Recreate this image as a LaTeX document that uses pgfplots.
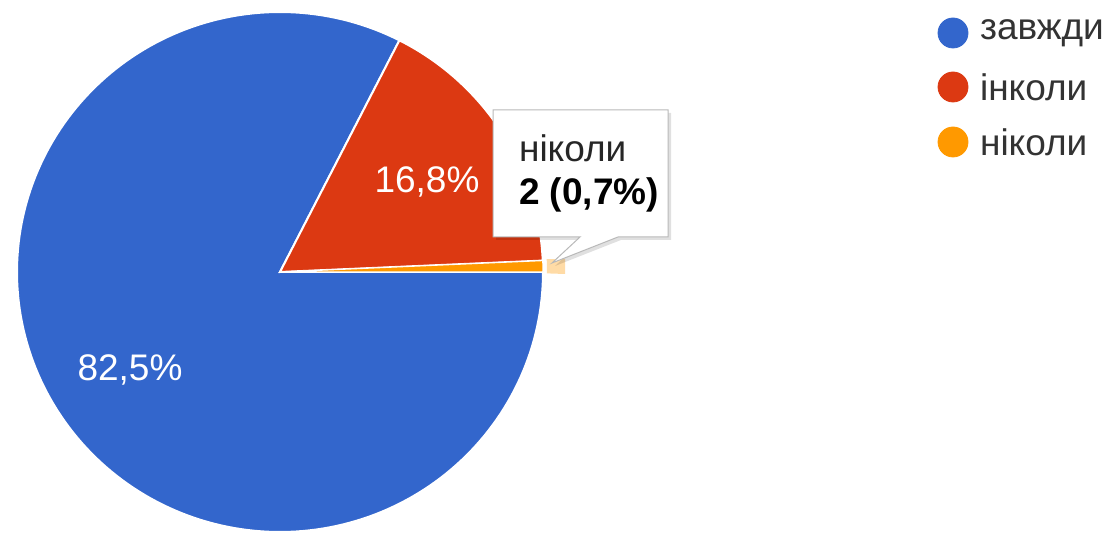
\documentclass[border=0pt]{standalone}
\usepackage{pgfplots}
\pgfplotsset{compat=1.18}
\usepackage{fontspec}
\setmainfont{Liberation Sans}
\definecolor{gblue}{HTML}{3366CC}
\definecolor{gred}{HTML}{DC3912}
\definecolor{gorange}{HTML}{FF9900}
\begin{document}
\begin{tikzpicture}[font=\fontsize{18.5}{22}\selectfont]
\def\cx{280}\def\cy{263}\def\Rx{263}\def\Ry{260}
% shares in percent
\def\pA{0.7}   % ніколи
\def\pB{16.8}  % інколи
\def\pC{82.5}  % завжди
\pgfmathsetmacro{\aA}{3.6*\pA}
\pgfmathsetmacro{\aB}{\aA+3.6*\pB}
\pgfmathsetmacro{\aC}{\aB+3.6*\pC}
\begin{axis}[x=0.5pt,y=0.5pt,xmin=0,xmax=1106,ymin=0,ymax=535,
  hide axis,clip=false,axis line style={draw=none}]
% blue wedge
\addplot[fill=gblue,draw=white,line width=1pt,domain=\aB:\aC,samples=200,variable=\t]
  ({\cx+\Rx*cos(\t)},{\cy+\Ry*sin(\t)}) -- (\cx,\cy) -- cycle;
% red wedge
\addplot[fill=gred,draw=white,line width=1pt,domain=\aA:\aB,samples=60,variable=\t]
  ({\cx+\Rx*cos(\t)},{\cy+\Ry*sin(\t)}) -- (\cx,\cy) -- cycle;
% orange wedge
\addplot[fill=gorange,draw=white,line width=0.6pt,domain=0:\aA,samples=5,variable=\t]
  ({\cx+\Rx*cos(\t)},{\cy+\Ry*sin(\t)}) -- (\cx,\cy) -- cycle;
% hover highlight of the orange wedge
\addplot[fill=gorange!35,draw=none,domain=-0.3:\aA+0.3,samples=5,variable=\t]
  ({\cx+(\Rx+4)*cos(\t)},{\cy+(\Ry+4)*sin(\t)}) -- ({\cx+\Rx+22},{\cy+(\Ry+4)*sin(\aA+0.3)}) -- ({\cx+\Rx+22},{\cy-2}) -- cycle;
% slice labels
\node[white] at (axis cs:427,353) {16,8\%};
\node[white] at (axis cs:130,165) {82,5\%};
% tooltip
\fill[black,opacity=0.12] (axis cs:496,295) -- (axis cs:583,295) -- (axis cs:555,269) -- (axis cs:621,295) -- (axis cs:671,295) -- (axis cs:671,422) -- (axis cs:496,422) -- cycle;
\draw[fill=white,draw=gray!55,line width=0.5pt] (axis cs:493,298) -- (axis cs:580,298) -- (axis cs:552,272) -- (axis cs:618,298) -- (axis cs:668,298) -- (axis cs:668,425) -- (axis cs:493,425) -- cycle;
\node[anchor=west,text=black!85] at (axis cs:512,387) {ніколи};
\node[anchor=west,text=black,font=\fontsize{18.5}{22}\selectfont\bfseries] at (axis cs:512,340) {2 (0,7\%)};
% legend
\addplot[only marks,mark=*,mark size=7.5pt,color=gblue] coordinates {(953,502)};
\addplot[only marks,mark=*,mark size=7.5pt,color=gred] coordinates {(953,448)};
\addplot[only marks,mark=*,mark size=7.5pt,color=gorange] coordinates {(953,393)};
\node[anchor=west,text=black!80] at (axis cs:973,502) {завжди};
\node[anchor=west,text=black!80] at (axis cs:973,448) {інколи};
\node[anchor=west,text=black!80] at (axis cs:973,393) {ніколи};
\end{axis}
\pgfresetboundingbox
\useasboundingbox (current axis.south west) rectangle (current axis.north east);
\end{tikzpicture}
\end{document}
